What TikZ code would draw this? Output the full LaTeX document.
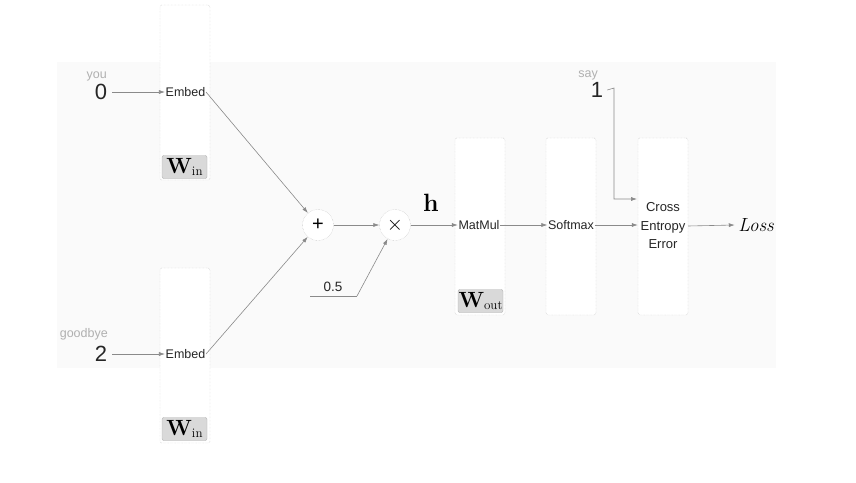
\documentclass[tikz,border=0pt]{standalone}
\usepackage{fontspec}
\setsansfont{Liberation Sans}
\usetikzlibrary{arrows.meta}
\definecolor{lineg}{HTML}{8A8A8A}
\definecolor{boxg}{HTML}{B8B8B8}
\definecolor{wfill}{HTML}{D9D9D9}
\definecolor{wdraw}{HTML}{B0B0B0}
\definecolor{lbl}{HTML}{B0B0B0}
\begin{document}
\begin{tikzpicture}[x=1pt,y=-1pt,
  layerbox/.style={draw=boxg,densely dotted,rounded corners=2pt,fill=white,minimum width=50pt,inner sep=0pt},
  optext/.style={font=\sffamily\fontsize{12.5}{14}\selectfont,text=black!85,inner sep=0.5pt},
  wbox/.style={fill=wfill,draw=wdraw,rounded corners=2pt,minimum width=45pt,minimum height=23pt,inner sep=0pt,font=\bfseries\fontsize{22}{22}\selectfont},
  digit/.style={font=\sffamily\fontsize{22}{22}\selectfont,text=black!85,inner sep=0pt},
  word/.style={font=\sffamily\fontsize{12.5}{13}\selectfont,text=lbl,inner sep=0pt},
  opcirc/.style={circle,draw=boxg,densely dotted,minimum size=31pt,inner sep=0pt,fill=white},
  conn/.style={draw=lineg,line width=0.6pt,-{Latex[length=6pt,width=4pt]}},
  plain/.style={draw=lineg,line width=0.6pt}]
\useasboundingbox (0,0) rectangle (856,482);
\fill[black!2] (57,62) rectangle (776,368);
% boxes
\node[layerbox,minimum height=175pt] (e1box) at (185,92.5) {};
\node[layerbox,minimum height=175pt] (e2box) at (185,355.5) {};
\node[layerbox,minimum height=177pt] (mmbox) at (480,226.5) {};
\node[layerbox,minimum height=177pt] (smbox) at (571,226.5) {};
\node[layerbox,minimum height=177pt] (cebox) at (663,226.5) {};
% texts
\node[optext] (e1) at (185.5,92) {Embed};
\node[optext] (e2) at (185.5,354) {Embed};
\node[optext] (mm) at (479,225) {MatMul};
\node[optext] (sm) at (571,225) {Softmax};
\node[optext,align=center,font=\sffamily\fontsize{13}{18.5}\selectfont] (ce) at (663,226) {Cross\\Entropy\\Error};
\node[wbox] (w1) at (184.5,167) {W\raisebox{-0.1em}{\fontsize{13}{13}\selectfont\mdseries in}};
\node[wbox] (w2) at (184.5,429) {W\raisebox{-0.1em}{\fontsize{13}{13}\selectfont\mdseries in}};
\node[wbox] (w3) at (480.5,301) {W\raisebox{-0.1em}{\fontsize{13}{13}\selectfont\mdseries out}};
% inputs
\node[digit] (d0) at (101,92) {0};
\node[word,anchor=south east] (you) at (107,81) {you};
\node[digit] (d2) at (101,354) {2};
\node[word,anchor=south east] (gb) at (108,340) {goodbye};
\node[digit] (d1) at (597,90) {1};
\node[word,anchor=south east] (say) at (598,80) {say};
% ops
\node[opcirc] (plus) at (318,225) {\sffamily\fontsize{20}{20}\selectfont +};
\node[opcirc] (times) at (395,225) {\fontsize{20}{20}\selectfont $\times$};
\node[font=\sffamily\fontsize{13.5}{14}\selectfont,text=black!85] (half) at (333,287) {0.5};
\coordinate (hl) at (310,296);
\coordinate (hr) at (357,296);
\node[font=\bfseries\fontsize{25}{25}\selectfont] (h) at (431,203) {h};
\node[font=\itshape\fontsize{19}{20}\selectfont] (loss) at (756,225) {Loss};
\coordinate (c1) at (614,88);
\coordinate (c2) at (614,199);
\coordinate (cin) at (637,199);
% connectors
\draw[conn] (d0.east) ++(5,0) -- (e1.west);
\draw[conn] (d2.east) ++(5,0) -- (e2.west);
\draw[conn] (e1.east) -- (plus);
\draw[conn] (e2.east) -- (plus);
\draw[conn] (plus) -- (times);
\draw[plain] (hl) -- (hr);
\draw[conn] (hr) -- (times);
\draw[conn] (times) -- (mm.west);
\draw[conn] (mm.east) -- (sm.west);
\draw[conn] (sm.east) -- (cebox.west |- sm.east);
\draw[conn] (cebox.east |- ce.east) -- (loss.west);
\draw[conn] (d1.east) ++(4,0) -- (c1) -- (c2) -- (cin);
\end{tikzpicture}
\end{document}
